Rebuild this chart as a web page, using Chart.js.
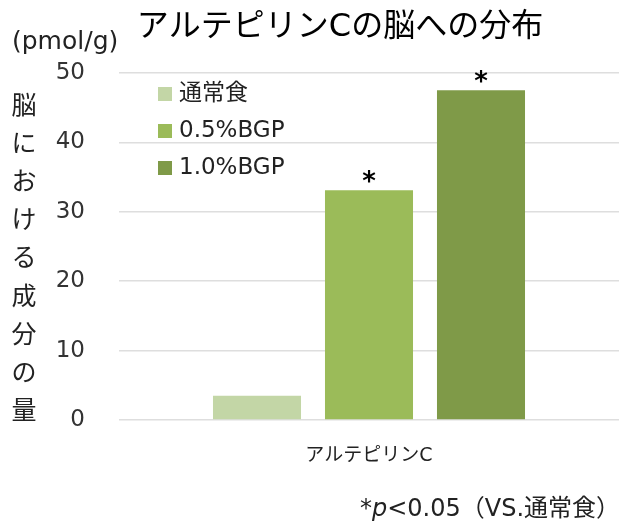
<!DOCTYPE html>
<html>
<head>
<meta charset="utf-8">
<script src="https://cdn.jsdelivr.net/npm/chart.js@4"></script>
<style>
  html, body { margin: 0; padding: 0; background: #fff; overflow: hidden; }
  #wrap { position: relative; width: 619px; height: 527px; }
</style>
</head>
<body>
<div id="wrap"><canvas id="myChart" width="619" height="527"></canvas></div>
<script>
const categories = ["アルテピリンC"];
const seriesLabels = ["通常食", "0.5%BGP", "1.0%BGP"];
const seriesValues = [3.5, 33.1, 47.5];
const seriesMarks = ["", "*", "*"];
const yTicks = [0, 10, 20, 30, 40, 50];
const titleText = "アルテピリンCの脳への分布";
const unitText = "(pmol/g)";
const yLabelChars = ["脳", "に", "お", "け", "る", "成", "分", "の", "量"];

const COLORS = ["#c3d6a6", "#9bbb59", "#7f9a48"];
const FONT = '"DejaVu Sans", "Noto Sans CJK JP", sans-serif';

const extrasPlugin = {
  id: "extras",
  afterDraw: (chart) => {
    const c = chart.ctx;
    c.save();
    c.fillStyle = "#000";
    c.textBaseline = "middle";

    // title + unit
    c.font = `32px ${FONT}`;
    c.textAlign = "center";
    c.fillText(titleText, 340, 28);
    c.font = `25px ${FONT}`;
    c.textAlign = "left";
    c.fillStyle = "#222";
    c.fillText(unitText, 12, 42);

    // vertical y label
    c.font = `25px "Noto Sans CJK JP", sans-serif`;
    c.textAlign = "center";
    yLabelChars.forEach((ch, i) => {
      c.fillText(ch, 24, 104 + i * 38.2);
    });

    // legend inside plot
    c.font = `23px ${FONT}`;
    c.textAlign = "left";
    chart.data.datasets.forEach((ds, i) => {
      const y = 94 + i * 37;
      c.fillStyle = ds.backgroundColor;
      c.fillRect(158, y - 7, 14, 14);
      c.fillStyle = "#222";
      c.fillText(ds.label, 179, y);
    });

    // significance marks
    c.font = `bold 26px ${FONT}`;
    c.textAlign = "center";
    c.fillStyle = "#000";
    chart.data.datasets.forEach((ds, i) => {
      if (!seriesMarks[i]) return;
      const bar = chart.getDatasetMeta(i).data[0];
      c.fillText(seriesMarks[i], bar.x, bar.y - 7);
    });

    // footnote
    let x = 360;
    const y = 510;
    c.textAlign = "left";
    c.fillStyle = "#222";
    const parts = [
      ["*", `24px ${FONT}`],
      ["p", `italic 24px ${FONT}`],
      ["<0.05（VS.通常食）", `24px ${FONT}`],
    ];
    parts.forEach(([t, f]) => {
      c.font = f;
      c.fillText(t, x, y);
      x += c.measureText(t).width;
    });
    c.restore();
  },
};

const ctx = document.querySelector("canvas#myChart").getContext("2d");
const myChart = new Chart(ctx, {
  type: "bar",
  data: {
    labels: categories,
    datasets: seriesLabels.map((label, i) => ({
      label: label,
      data: [seriesValues[i]],
      backgroundColor: COLORS[i],
      borderWidth: 0,
      categoryPercentage: 0.672,
      barPercentage: 0.786,
    })),
  },
  options: {
    responsive: false,
    animation: false,
    layout: { padding: { top: 73, left: 0, right: 0, bottom: 0 } },
    plugins: {
      legend: { display: false },
      title: { display: false },
      tooltip: { enabled: false },
    },
    scales: {
      x: {
        grid: { display: false, drawTicks: false },
        border: { display: false },
        ticks: { color: "#222", font: { family: FONT, size: 19 }, padding: 25 },
        afterFit: (scale) => { scale.height = 107; },
      },
      y: {
        min: 0,
        max: 50,
        afterBuildTicks: (scale) => { scale.ticks = yTicks.map((v) => ({ value: v })); },
        grid: { color: "#dedede", lineWidth: 1.5, drawTicks: false },
        border: { display: false },
        ticks: { color: "#333", font: { family: FONT, size: 23 }, padding: 34 },
        afterFit: (scale) => { scale.width = 119; },
      },
    },
  },
  plugins: [extrasPlugin],
});
</script>
</body>
</html>
